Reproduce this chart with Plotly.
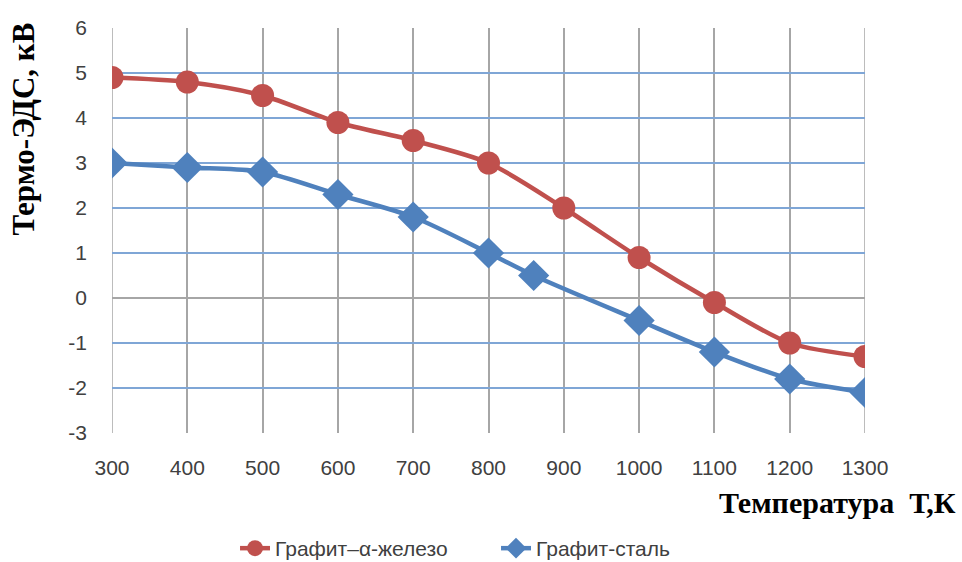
import plotly.graph_objects as go

t_red = [300, 400, 500, 600, 700, 800, 900, 1000, 1100, 1200, 1300]
v_red = [4.9, 4.8, 4.5, 3.9, 3.5, 3.0, 2.0, 0.9, -0.1, -1.0, -1.3]
t_blue = [300, 400, 500, 600, 700, 800, 860, 1000, 1100, 1200, 1300]
v_blue = [3.0, 2.9, 2.8, 2.3, 1.8, 1.0, 0.5, -0.5, -1.2, -1.8, -2.1]
name_red = "Графит–α-железо"
name_blue = "Графит-сталь"
x_ticks = [300, 400, 500, 600, 700, 800, 900, 1000, 1100, 1200, 1300]
y_ticks = [-3, -2, -1, 0, 1, 2, 3, 4, 5, 6]
y_ticktext = [str(v) for v in y_ticks]

red = "#C0504D"
blue = "#4F81BD"

fig = go.Figure()
fig.add_trace(go.Scatter(x=t_red, y=v_red, name=name_red, mode="lines+markers",
                         line=dict(color=red, width=4.5, shape="spline", smoothing=0.8),
                         marker=dict(symbol="circle", size=23, color=red)))
fig.add_trace(go.Scatter(x=t_blue, y=v_blue, name=name_blue, mode="lines+markers",
                         line=dict(color=blue, width=4.5, shape="spline", smoothing=0.8),
                         marker=dict(symbol="diamond", size=24, color=blue)))

fig.update_layout(
    width=962, height=562,
    margin=dict(l=112, r=97, t=28, b=129),
    plot_bgcolor="white", paper_bgcolor="white",
    font=dict(family="Liberation Sans, Arial", size=21, color="#404040"),
    xaxis=dict(range=[300, 1300], tickvals=x_ticks, showgrid=True, gridcolor="#A6A6A6",
               gridwidth=1.5, zeroline=False, showline=False, ticks="", ticklabelstandoff=20),
    yaxis=dict(range=[-3, 6], tickvals=y_ticks, ticktext=y_ticktext, showgrid=True,
               gridcolor="#7FA6D6", gridwidth=1.5, zeroline=True, zerolinecolor="#A6A6A6",
               zerolinewidth=1.5, showline=False, ticks="", ticklabelstandoff=24),
    showlegend=True,
    legend=dict(orientation="h", x=0.51, xref="paper", xanchor="center",
                yref="container", y=0.024, yanchor="middle",
                font=dict(size=21, color="#404040"), entrywidth=216),
    annotations=[
        dict(text="<b>Термо-ЭДС, кВ</b>", xref="paper", yref="paper", x=-0.118, y=0.75,
             xanchor="center", yanchor="middle", textangle=-90, showarrow=False,
             font=dict(family="Liberation Serif, Times New Roman", size=31, color="black")),
        dict(text="<b>Температура  Т,К</b>", xref="paper", yref="paper", x=0.804, y=-0.125,
             xanchor="left", yanchor="top", showarrow=False,
             font=dict(family="Liberation Serif, Times New Roman", size=30, color="black")),
    ],
)
fig.add_shape(type="line", xref="x", yref="paper", x0=1300, x1=1300, y0=0, y1=1,
              line=dict(color="#A6A6A6", width=1.5), layer="below")
fig.add_shape(type="line", xref="x", yref="paper", x0=300, x1=300, y0=0, y1=1,
              line=dict(color="#A6A6A6", width=1.5), layer="below")

fig.write_html("out.html", config={"displayModeBar": False},
               post_script="document.body.style.margin='0';")
